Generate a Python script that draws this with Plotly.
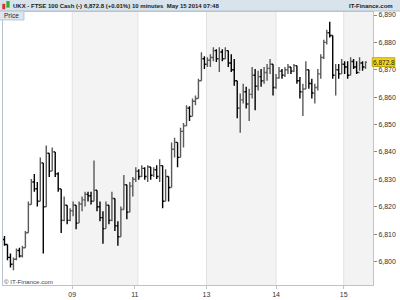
import plotly.graph_objects as go

# ---- data (10-minute bars, FTSE 100 Cash) ----
opens = [6808.0, 6806.2, 6801.5, 6799.0, 6800.8, 6804.0, 6802.0, 6805.0, 6810.5, 6820.8,
         6829.0, 6826.5, 6822.0, 6836.0, 6820.0, 6839.5, 6833.0, 6840.0, 6832.0, 6826.5,
         6815.0, 6820.5, 6815.0, 6818.5, 6820.5, 6814.0, 6821.0, 6822.5, 6824.5, 6824.0,
         6822.0, 6826.0, 6820.0, 6816.0, 6812.0, 6820.5, 6815.0, 6823.0, 6813.0, 6809.0,
         6819.0, 6828.0, 6818.0, 6827.5, 6830.0, 6833.0, 6831.0, 6834.0, 6831.0, 6834.5,
         6831.5, 6833.5, 6831.0, 6835.0, 6822.0, 6831.0, 6827.0, 6841.0, 6843.5, 6838.0,
         6847.5, 6849.5, 6856.0, 6853.0, 6858.5, 6859.5, 6866.0, 6874.0, 6872.0, 6873.5,
         6874.5, 6877.0, 6874.0, 6876.5, 6874.0, 6877.0, 6872.5, 6870.0, 6866.0, 6856.0,
         6859.0, 6862.0, 6857.5, 6861.0, 6868.0, 6864.0, 6867.5, 6866.0, 6869.0, 6870.5,
         6872.0, 6863.5, 6867.0, 6869.5, 6868.0, 6870.0, 6871.0, 6869.5, 6871.5, 6866.0,
         6862.0, 6863.0, 6870.0, 6865.0, 6861.5, 6863.5, 6868.5, 6874.5, 6880.0, 6883.5,
         6882.5, 6868.0, 6870.0, 6868.5, 6872.0, 6871.0, 6868.0, 6873.0, 6871.0, 6869.0,
         6872.5, 6871.0]
highs = [6809.3, 6806.2, 6802.9, 6801.4, 6804.7, 6805.0, 6805.7, 6811.1, 6821.9, 6830.1,
         6831.9, 6829.0, 6838.0, 6836.0, 6842.3, 6839.5, 6841.6, 6840.0, 6832.6, 6826.5,
         6823.7, 6820.5, 6819.4, 6821.9, 6820.5, 6821.9, 6823.7, 6825.5, 6825.5, 6825.5,
         6836.9, 6826.0, 6821.9, 6818.3, 6821.9, 6820.5, 6825.5, 6823.0, 6814.7, 6820.1,
         6831.6, 6828.0, 6829.0, 6830.8, 6834.4, 6833.7, 6835.1, 6834.4, 6835.1, 6834.5,
         6834.4, 6835.1, 6837.3, 6835.0, 6833.7, 6831.0, 6843.4, 6845.2, 6843.4, 6848.8,
         6850.6, 6857.0, 6856.7, 6859.5, 6860.6, 6866.7, 6876.4, 6874.9, 6874.6, 6875.7,
         6878.2, 6877.5, 6878.2, 6877.5, 6878.2, 6877.0, 6875.7, 6873.9, 6866.0, 6861.3,
         6864.9, 6863.8, 6863.1, 6871.0, 6870.3, 6869.6, 6870.3, 6871.0, 6872.1, 6873.9,
         6872.0, 6868.5, 6871.0, 6870.3, 6871.0, 6872.1, 6871.0, 6872.1, 6871.5, 6867.4,
         6864.9, 6873.1, 6870.0, 6866.7, 6864.9, 6870.3, 6875.7, 6881.0, 6884.6, 6887.5,
         6882.5, 6872.1, 6872.1, 6873.9, 6873.1, 6873.1, 6874.6, 6873.9, 6873.1, 6874.6,
         6873.1, 6873.1]
lows = [6805.7, 6800.4, 6797.8, 6796.8, 6800.4, 6801.4, 6801.4, 6805.0, 6810.5, 6820.8,
        6825.5, 6820.1, 6822.0, 6802.9, 6820.0, 6830.8, 6833.0, 6830.8, 6825.5, 6810.4,
        6814.7, 6813.6, 6814.7, 6816.5, 6811.8, 6814.0, 6818.3, 6820.1, 6821.9, 6820.8,
        6822.0, 6818.3, 6814.7, 6806.5, 6812.0, 6813.6, 6814.7, 6811.1, 6805.7, 6809.0,
        6819.0, 6815.4, 6818.0, 6823.7, 6829.0, 6829.8, 6830.8, 6829.8, 6829.0, 6829.8,
        6830.8, 6830.1, 6829.0, 6819.4, 6822.0, 6821.9, 6827.0, 6838.0, 6834.4, 6838.0,
        6841.6, 6849.5, 6851.3, 6853.0, 6857.0, 6859.5, 6866.0, 6870.3, 6871.0, 6871.0,
        6873.1, 6872.8, 6869.2, 6873.1, 6873.9, 6871.0, 6869.2, 6864.2, 6852.3, 6847.0,
        6857.7, 6855.9, 6851.3, 6859.5, 6855.2, 6862.4, 6863.8, 6864.9, 6866.0, 6868.5,
        6860.6, 6863.1, 6866.7, 6866.7, 6867.4, 6868.5, 6868.5, 6869.2, 6864.9, 6859.5,
        6853.1, 6863.0, 6863.1, 6859.5, 6857.7, 6862.4, 6866.7, 6873.9, 6879.2, 6881.8,
        6866.7, 6860.6, 6866.7, 6868.5, 6868.5, 6866.7, 6868.0, 6870.3, 6868.5, 6869.6,
        6869.6, 6870.3]
closes = [6806.2, 6801.5, 6799.0, 6800.8, 6804.0, 6802.0, 6805.0, 6810.5, 6820.8, 6829.0,
          6826.5, 6822.0, 6836.0, 6820.0, 6839.5, 6833.0, 6840.0, 6832.0, 6826.5, 6815.0,
          6820.5, 6815.0, 6818.5, 6820.5, 6814.0, 6821.0, 6822.5, 6824.5, 6824.0, 6822.0,
          6826.0, 6820.0, 6816.0, 6812.0, 6820.5, 6815.0, 6823.0, 6813.0, 6809.0, 6819.0,
          6828.0, 6818.0, 6827.5, 6830.0, 6833.0, 6831.0, 6834.0, 6831.0, 6834.5, 6831.5,
          6833.5, 6831.0, 6835.0, 6822.0, 6831.0, 6827.0, 6841.0, 6843.5, 6838.0, 6847.5,
          6849.5, 6856.0, 6853.0, 6858.5, 6859.5, 6866.0, 6874.0, 6872.0, 6873.5, 6874.5,
          6877.0, 6874.0, 6876.5, 6874.0, 6877.0, 6872.5, 6870.0, 6866.0, 6856.0, 6859.0,
          6862.0, 6857.5, 6861.0, 6868.0, 6864.0, 6867.5, 6866.0, 6869.0, 6870.5, 6872.0,
          6863.5, 6867.0, 6869.5, 6868.0, 6870.0, 6871.0, 6869.5, 6871.5, 6866.0, 6862.0,
          6863.0, 6870.0, 6865.0, 6861.5, 6863.5, 6868.5, 6874.5, 6880.0, 6883.5, 6882.5,
          6868.0, 6870.0, 6868.5, 6872.0, 6871.0, 6868.0, 6873.0, 6871.0, 6869.0, 6872.5,
          6871.0, 6872.8]
bar_index = list(range(len(closes)))

day_tick_pos = [22.7, 43.7, 67.7, 91.0, 113.7]
day_tick_labels = ["09", "11", "13", "14", "15"]
shaded_days = [(22.7, 44.7), (67.7, 91.0), (113.7, 124.0)]
day_lines = [22.7, 44.7, 67.7, 91.0, 113.7]

title_left = "UKX - FTSE 100 Cash (-)"
title_quote = "6,872.8 (+0.01%)"
title_time = "10 minutes  May 15 2014 07:48"
brand = "IT-Finance.com"
last_price = 6872.8

FONT = "Liberation Sans, Arial, sans-serif"
HFS = 6.0

fig = go.Figure()
fig.add_trace(go.Ohlc(
    x=bar_index, open=opens, high=highs, low=lows, close=closes,
    increasing=dict(line=dict(color="#5a5a5a", width=1.4)),
    decreasing=dict(line=dict(color="#000000", width=1.4)),
    tickwidth=0.5, hoverinfo="skip", showlegend=False,
))

shapes = []
for a, b in shaded_days:
    shapes.append(dict(type="rect", xref="x", yref="paper", x0=a, x1=b, y0=0, y1=1,
                       fillcolor="#f3f3f3", line=dict(width=0), layer="below"))
for v in day_lines:
    shapes.append(dict(type="line", xref="x", yref="paper", x0=v, x1=v, y0=0, y1=1,
                       line=dict(color="#e2e2e2", width=1), layer="below"))
# header bar
shapes.append(dict(type="rect", xref="paper", yref="paper", x0=-0.01, x1=1.08,
                   y0=1.0036, y1=1.05, fillcolor="#d8e3eb",
                   line=dict(color="#b8c4ce", width=1)))
# "Price" box
shapes.append(dict(type="rect", xref="paper", yref="paper", x0=-0.01, x1=0.0566,
                   y0=0.971, y1=1.0036, fillcolor="#dde6ee",
                   line=dict(color="#b8c4ce", width=1)))
# small icon in header
shapes.append(dict(type="rect", xref="paper", yref="paper", x0=-0.002, x1=0.006,
                   y0=1.010, y1=1.030, fillcolor="#e03030", line=dict(width=0)))
shapes.append(dict(type="rect", xref="paper", yref="paper", x0=0.009, x1=0.018,
                   y0=1.016, y1=1.040, fillcolor="#30b030", line=dict(width=0)))
# last price tag
shapes.append(dict(type="rect", xref="paper", yref="y", x0=0.998, x1=1.059,
                   y0=last_price - 1.6, y1=last_price + 1.6, fillcolor="#f2d21a",
                   line=dict(color="#c8a800", width=1)))

annotations = [
    dict(text="<b>" + title_left + "</b>", xref="paper", yref="paper", x=0.0216, y=1.0234,
         xanchor="left", yanchor="middle", showarrow=False,
         font=dict(family=FONT, size=HFS, color="#1a1a1a")),
    dict(text="<b>" + title_quote + "</b>", xref="paper", yref="paper", x=0.213, y=1.0234,
         xanchor="left", yanchor="middle", showarrow=False,
         font=dict(family=FONT, size=HFS, color="#1a1a1a")),
    dict(text="<b>" + title_time + "</b>", xref="paper", yref="paper", x=0.342, y=1.0234,
         xanchor="left", yanchor="middle", showarrow=False,
         font=dict(family=FONT, size=HFS, color="#1a1a1a")),
    dict(text="<b>" + brand + "</b>", xref="paper", yref="paper", x=1.059, y=1.0234,
         xanchor="right", yanchor="middle", showarrow=False,
         font=dict(family=FONT, size=HFS, color="#1a1a1a")),
    dict(text="Price", xref="paper", yref="paper", x=-0.002, y=0.9873,
         xanchor="left", yanchor="middle", showarrow=False,
         font=dict(family=FONT, size=6.5, color="#222222")),
    dict(text="© " + brand, xref="paper", yref="paper", x=-0.002, y=0.014,
         xanchor="left", yanchor="middle", showarrow=False,
         font=dict(family=FONT, size=6.2, color="#444444")),
    dict(text=f"{last_price:,.1f}", xref="paper", yref="y", x=1.0285, y=last_price,
         xanchor="center", yanchor="middle", showarrow=False,
         font=dict(family=FONT, size=6.5, color="#222222")),
]

fig.update_layout(
    width=400, height=300,
    margin=dict(l=2, r=27, t=12, b=10),
    paper_bgcolor="white", plot_bgcolor="white",
    shapes=shapes, annotations=annotations,
    font=dict(family=FONT, size=7, color="#333333"),
    xaxis=dict(range=[-0.5, 123.5], rangeslider=dict(visible=False),
               tickvals=day_tick_pos, ticktext=day_tick_labels,
               showgrid=False, zeroline=False, showline=True, linecolor="#b8c4ce",
               mirror=True, ticks="outside", ticklen=3, tickcolor="#b8c4ce",
               tickfont=dict(size=7, color="#333333")),
    yaxis=dict(range=[6791.4, 6891.1], side="right", dtick=10, tick0=6800,
               tickformat=",.0f", showgrid=False, zeroline=False,
               showline=True, linecolor="#b8c4ce", mirror=True,
               ticks="outside", ticklen=3, tickcolor="#888888",
               tickfont=dict(size=7, color="#333333")),
)

fig.write_html("out.html")
